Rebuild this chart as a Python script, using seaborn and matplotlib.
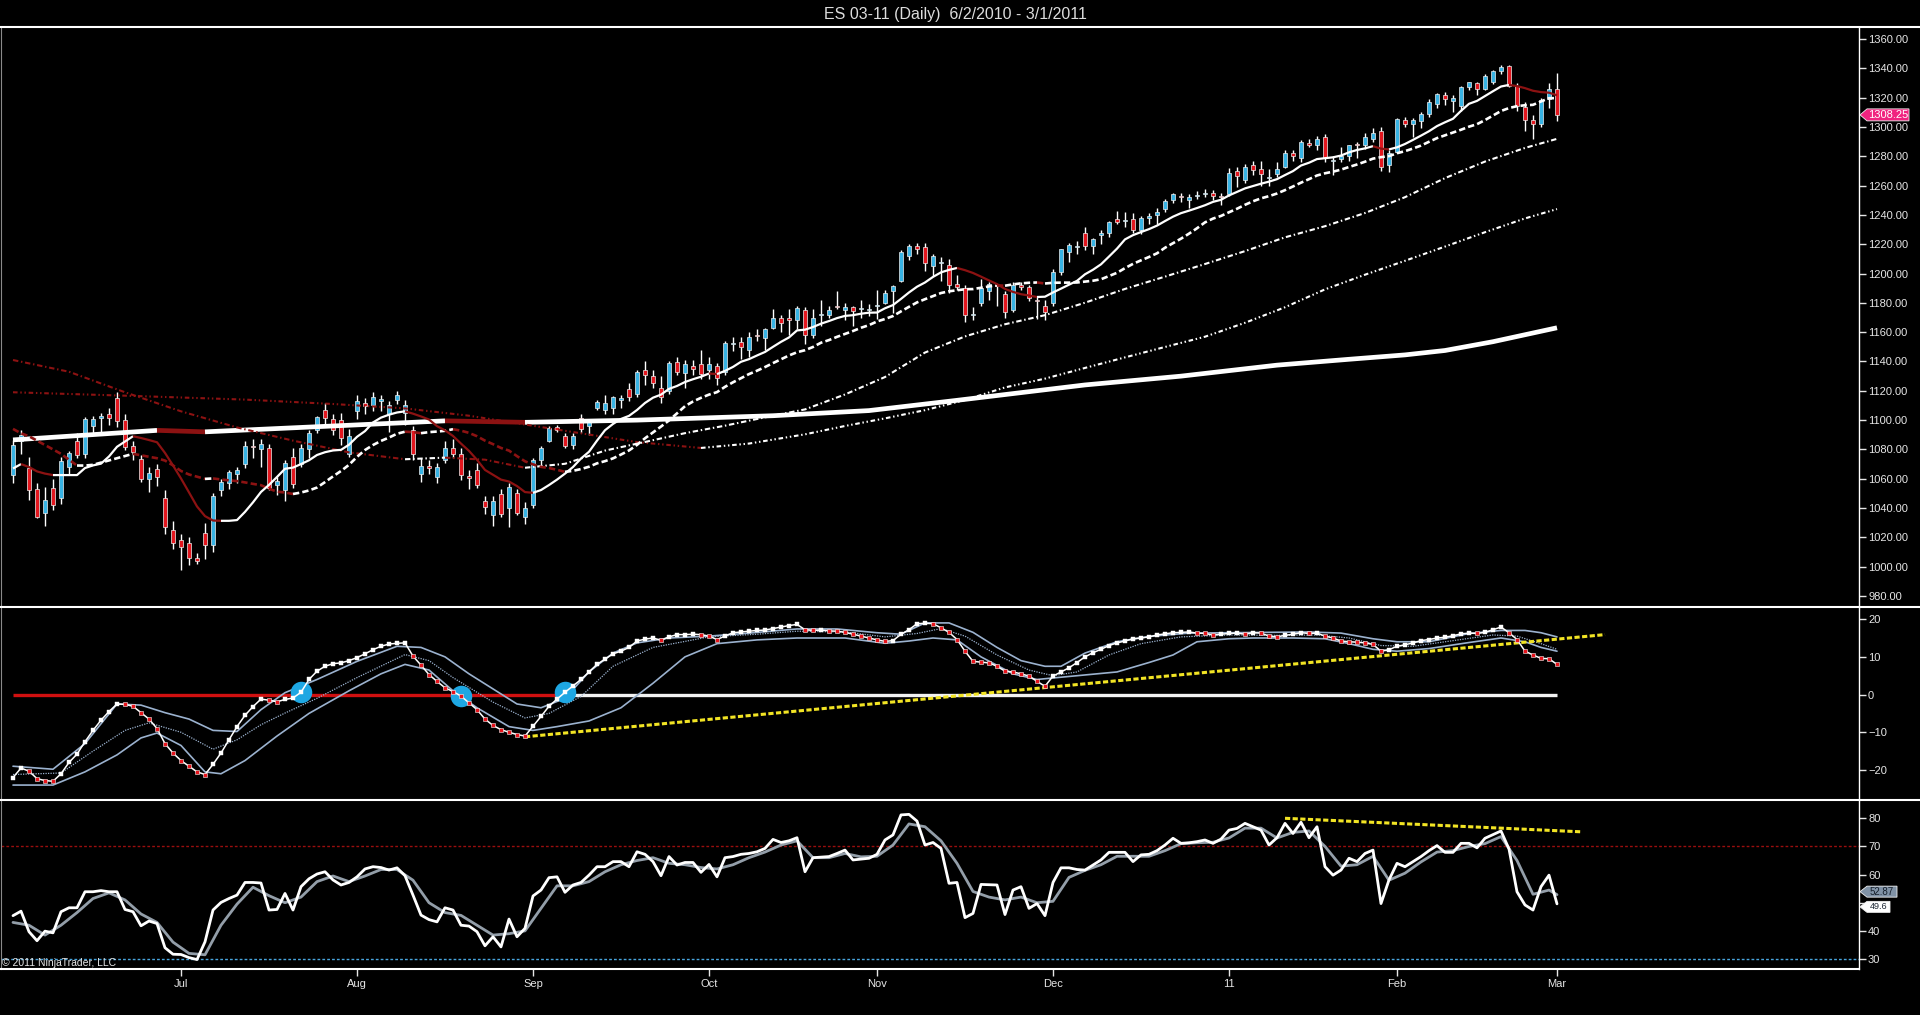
import matplotlib
matplotlib.use('Agg')
import matplotlib.pyplot as plt
import seaborn as sns
from matplotlib.patches import Polygon
from matplotlib.lines import Line2D

# ---------------- data ----------------
opens = [1062.5, 1086, 1067, 1053, 1036.5, 1053.5, 1047, 1068, 1086, 1077,
         1096, 1101.5, 1104.5, 1115, 1100, 1082, 1073.5, 1060, 1066.5, 1047,
         1025, 1018, 1016, 1006, 1023, 1015, 1052, 1057, 1063, 1070,
         1082, 1080, 1081, 1056, 1052, 1075, 1070, 1080, 1093, 1107,
         1101, 1100, 1077, 1106, 1112, 1110, 1113, 1104, 1114, 1105,
         1093, 1063, 1069, 1061.5, 1073, 1081, 1077, 1062, 1066, 1045,
         1035.5, 1049.5, 1040, 1050.5, 1034, 1042, 1072.5, 1086, 1095, 1089,
         1083, 1101.5, 1096, 1108, 1107, 1108, 1114, 1121.5, 1118, 1134,
         1130, 1122, 1120, 1139.5, 1132, 1137, 1138, 1134, 1137, 1133,
         1152, 1153, 1148, 1158, 1156, 1163, 1170, 1170, 1168, 1175,
         1158, 1172, 1172, 1178, 1175, 1177, 1176, 1175, 1178, 1180,
         1188, 1195, 1212, 1219, 1218, 1205, 1207, 1206, 1193, 1190,
         1172, 1180, 1188, 1192, 1186, 1175, 1192, 1191, 1182, 1178,
         1180, 1201, 1215, 1218, 1228, 1219, 1226, 1228, 1237, 1236,
         1237, 1230, 1238, 1240, 1244, 1250, 1253, 1250, 1253, 1254,
         1255, 1253, 1254, 1270, 1264, 1274, 1271, 1265, 1268, 1273,
         1282, 1279, 1289, 1288, 1293, 1277, 1278, 1280, 1288, 1288,
         1292, 1297, 1274, 1283, 1305, 1302, 1304, 1309, 1316, 1322,
         1318, 1314, 1327, 1330, 1326, 1331, 1338, 1341.5, 1328, 1313.5,
         1305, 1302, 1319, 1326]
highs = [1086.5, 1093, 1075, 1057, 1054.5, 1060, 1075, 1079, 1091, 1102,
         1103, 1105, 1108, 1119, 1104, 1086, 1076, 1068, 1070, 1052,
         1031, 1022, 1020, 1009, 1030, 1050.5, 1060, 1066, 1068, 1086,
         1087, 1087, 1084, 1061, 1073, 1081, 1084, 1093, 1103, 1112,
         1104, 1105, 1094, 1117, 1115, 1119, 1117, 1113, 1120, 1114,
         1096, 1074, 1073, 1071, 1086, 1087, 1081, 1066, 1071, 1048,
         1048, 1053, 1057, 1053, 1044, 1074, 1082, 1096, 1097, 1091,
         1091, 1104, 1101, 1114, 1117, 1116.5, 1117, 1125, 1134, 1140,
         1134, 1130, 1140, 1143, 1141, 1141, 1148, 1143, 1139, 1154,
         1157, 1157, 1160, 1162, 1163, 1176, 1172, 1176, 1178, 1177,
         1176, 1182, 1178, 1188, 1180, 1178, 1182, 1179, 1189, 1189,
         1192, 1216, 1220, 1221, 1221, 1213, 1211, 1210, 1199, 1192,
         1177, 1196, 1194, 1193, 1188, 1194, 1194, 1192, 1185, 1182,
         1203, 1217, 1221, 1222, 1232, 1224, 1230, 1236, 1243, 1242,
         1241, 1239, 1241, 1245, 1251, 1255, 1255, 1254, 1256, 1258,
         1257, 1255, 1272, 1273, 1275, 1277, 1277, 1271, 1276, 1284,
         1284, 1291, 1292, 1294, 1295, 1280, 1286, 1288, 1290, 1296,
         1299, 1300, 1284, 1306, 1307, 1306, 1310, 1319, 1323, 1324,
         1322, 1328, 1331, 1331, 1336, 1339, 1342, 1342, 1330, 1317,
         1308, 1320, 1330, 1337]
lows = [1057, 1077, 1045.5, 1033, 1027.5, 1038.5, 1043, 1063, 1074, 1074,
        1090, 1091, 1097, 1095, 1079.5, 1073, 1057.5, 1051, 1055, 1022,
        1012, 998, 1001, 1002, 1005, 1010, 1048, 1053, 1057, 1067,
        1074, 1068, 1052, 1049, 1044.5, 1054, 1068, 1074, 1091, 1097,
        1090, 1083, 1075, 1101, 1104, 1106, 1106, 1092, 1111, 1097,
        1073, 1058, 1063, 1057, 1071, 1074, 1059, 1053, 1054, 1036,
        1028, 1034, 1027, 1035, 1029, 1040, 1068, 1085, 1092, 1081,
        1080, 1091, 1090, 1107, 1104, 1104, 1108, 1113, 1116, 1124,
        1122, 1112, 1118, 1131, 1122, 1131, 1128, 1128, 1124, 1131,
        1147, 1142, 1143, 1154, 1148, 1162, 1160, 1158, 1162, 1152,
        1156, 1164, 1170, 1176, 1168, 1164, 1170, 1171, 1169, 1179,
        1173, 1194, 1209, 1213, 1202, 1198, 1195, 1187, 1189, 1167,
        1168, 1178, 1182, 1178, 1170, 1174, 1189, 1181, 1169, 1168,
        1178, 1199, 1208, 1213, 1216, 1213, 1220, 1225, 1234, 1232,
        1228, 1227, 1234, 1234, 1242, 1248, 1249, 1245, 1251, 1252,
        1250, 1247, 1253, 1259, 1262, 1267, 1260, 1260, 1266, 1272,
        1277, 1276, 1286, 1284, 1276, 1267, 1276, 1277, 1279, 1285,
        1290, 1270, 1269, 1282, 1300, 1293, 1299, 1307, 1313, 1315,
        1310, 1311, 1325, 1322, 1325, 1329, 1336, 1327, 1311, 1297,
        1292, 1300, 1313, 1304]
closes = [1083, 1090, 1052.5, 1034, 1045.5, 1042, 1072, 1077.5, 1076, 1100.5,
          1100.5, 1102.5, 1101.5, 1099.5, 1081.5, 1078, 1060, 1064, 1061, 1027,
          1016, 1013.5, 1006, 1004, 1015, 1048.5, 1057.5, 1064.5, 1066, 1082.5,
          1081.5, 1084, 1054, 1058.5, 1071, 1056.5, 1081, 1091, 1102, 1101.5,
          1093, 1088, 1089, 1113, 1109.5, 1115.5, 1114.5, 1110.5, 1117, 1110,
          1077, 1069, 1067.5, 1068, 1081, 1077, 1062.5, 1060.5, 1056, 1041,
          1044.5, 1036, 1054.5, 1036.5, 1040, 1072.5, 1081, 1094.5, 1093.5, 1082,
          1089.5, 1094, 1100, 1112.5, 1111.5, 1115.5, 1115, 1115.5, 1133, 1130.5,
          1125, 1115.5, 1139, 1132.5, 1138, 1135, 1131.5, 1138, 1129, 1152.5,
          1152, 1150, 1157, 1157.5, 1162, 1170, 1166, 1168, 1176.5, 1158,
          1170, 1172.5, 1175, 1177.5, 1177.5, 1174.5, 1176, 1175, 1178, 1187,
          1191.5, 1214.5, 1219, 1216.5, 1207, 1212, 1207, 1192.5, 1191, 1172,
          1172, 1190, 1193, 1191.5, 1174, 1192, 1191, 1183, 1181, 1174,
          1201, 1216.5, 1219.5, 1218, 1218.5, 1223.5, 1228, 1235.5, 1235.5, 1236.5,
          1230, 1238, 1239, 1242, 1249.5, 1254, 1252, 1252.5, 1253.5, 1255,
          1253, 1252.5, 1268.5, 1266.5, 1273, 1270.5, 1268, 1266, 1271, 1282.5,
          1280.5, 1290, 1288, 1291.5, 1278.5, 1277, 1280, 1287.5, 1287.5, 1293,
          1296, 1273, 1282.5, 1305.5, 1302, 1305, 1309, 1317, 1322.5, 1319,
          1320, 1327, 1330.5, 1326, 1334.5, 1338.5, 1341, 1328, 1314, 1305,
          1302, 1318.5, 1326, 1308.25]

ma10 = [1067, 1070, 1068, 1065, 1063.5, 1062.5, 1062.5, 1062.5, 1062.5, 1067.3,
        1069.1, 1070.3, 1075.2, 1081.8, 1085.4, 1089.0, 1087.8, 1086.4, 1084.9, 1077.6,
        1069.1, 1060.2, 1050.7, 1041.1, 1034.5, 1031.5, 1031.3, 1031.3, 1031.8, 1037.4,
        1043.9, 1051.0, 1055.8, 1061.2, 1066.8, 1067.6, 1070.0, 1072.6, 1076.2, 1078.1,
        1079.3, 1079.7, 1083.2, 1088.6, 1092.5, 1098.4, 1101.7, 1103.7, 1105.2, 1106.0,
        1104.4, 1102.5, 1100.4, 1095.9, 1093.0, 1089.2, 1084.0, 1079.0, 1072.9, 1066.0,
        1062.7, 1059.4, 1058.1, 1055.0, 1050.9, 1050.4, 1052.3, 1055.7, 1059.4, 1063.5,
        1068.0, 1073.8, 1078.4, 1086.0, 1093.1, 1097.4, 1100.8, 1102.9, 1106.9, 1111.7,
        1115.3, 1117.4, 1121.3, 1123.3, 1126.0, 1127.9, 1129.6, 1131.8, 1131.4, 1133.6,
        1136.3, 1139.8, 1141.6, 1144.1, 1146.5, 1150.0, 1153.4, 1156.4, 1161.2, 1161.7,
        1163.5, 1165.8, 1167.6, 1169.6, 1171.1, 1171.6, 1172.6, 1173.3, 1173.4, 1176.3,
        1178.5, 1182.7, 1187.1, 1191.0, 1193.9, 1197.7, 1200.8, 1202.5, 1203.8, 1202.3,
        1200.4, 1197.9, 1195.3, 1192.8, 1189.5, 1187.5, 1185.9, 1185.0, 1184.0, 1184.2,
        1187.1, 1189.7, 1192.4, 1195.0, 1199.5, 1202.6, 1206.3, 1211.6, 1217.0, 1223.3,
        1226.2, 1228.3, 1230.3, 1232.7, 1235.8, 1238.8, 1241.2, 1242.9, 1244.7, 1246.6,
        1248.9, 1250.3, 1253.3, 1255.7, 1258.1, 1259.7, 1261.3, 1262.7, 1264.4, 1267.2,
        1269.9, 1273.7, 1275.6, 1278.1, 1278.7, 1279.3, 1280.5, 1282.7, 1284.3, 1285.4,
        1286.9, 1285.2, 1284.7, 1286.1, 1288.4, 1291.2, 1294.1, 1297.1, 1300.6, 1303.2,
        1305.6, 1311.0, 1315.8, 1317.8, 1321.1, 1324.4, 1327.6, 1328.7, 1327.9, 1326.5,
        1324.7, 1323.8, 1323.4, 1321.6]
ma20 = [1094, 1091, 1089, 1086, 1083, 1080, 1077, 1073, 1069, 1069,
        1069.5, 1071, 1072.5, 1074, 1075.5, 1077, 1076, 1075, 1074, 1072.4,
        1069.1, 1065.3, 1062.9, 1061.4, 1059.9, 1060.2, 1059.5, 1058.9, 1058.4, 1057.5,
        1056.5, 1055.6, 1053.2, 1051.2, 1050.6, 1049.6, 1050.6, 1052.0, 1054.0, 1057.7,
        1061.6, 1065.3, 1069.5, 1074.9, 1079.6, 1083.0, 1085.8, 1088.1, 1090.7, 1092.1,
        1091.8, 1091.1, 1091.8, 1092.2, 1092.7, 1093.8, 1092.8, 1091.3, 1089.0, 1086.0,
        1083.6, 1081.0, 1079.2, 1075.4, 1071.9, 1069.8, 1068.1, 1067.3, 1066.1, 1064.7,
        1065.4, 1066.6, 1068.2, 1070.5, 1072.0, 1073.9, 1076.5, 1079.3, 1083.1, 1087.6,
        1091.6, 1095.6, 1099.8, 1104.6, 1109.5, 1112.7, 1115.2, 1117.4, 1119.1, 1122.7,
        1125.8, 1128.6, 1131.4, 1133.7, 1136.2, 1138.9, 1141.5, 1144.1, 1146.3, 1147.7,
        1149.9, 1152.8, 1154.6, 1156.8, 1158.8, 1160.8, 1163.0, 1164.8, 1167.3, 1169.0,
        1171.0, 1174.2, 1177.3, 1180.3, 1182.5, 1184.6, 1186.7, 1187.9, 1188.6, 1189.3,
        1189.4, 1190.3, 1191.2, 1191.9, 1191.7, 1192.6, 1193.3, 1193.7, 1193.9, 1193.2,
        1193.7, 1193.8, 1193.8, 1193.9, 1194.5, 1195.1, 1196.1, 1198.3, 1200.5, 1203.7,
        1206.6, 1209.0, 1211.3, 1213.8, 1217.6, 1220.7, 1223.8, 1227.2, 1230.9, 1234.9,
        1237.5, 1239.3, 1241.8, 1244.2, 1246.9, 1249.3, 1251.3, 1252.8, 1254.6, 1256.9,
        1259.4, 1262.0, 1264.4, 1266.9, 1268.4, 1269.5, 1270.9, 1272.7, 1274.4, 1276.3,
        1278.4, 1279.4, 1280.1, 1282.1, 1283.5, 1285.3, 1287.3, 1289.9, 1292.4, 1294.3,
        1296.2, 1298.1, 1300.2, 1301.9, 1304.7, 1307.8, 1310.9, 1312.9, 1314.2, 1314.8,
        1315.1, 1317.4, 1319.6, 1319.7]

ma50_x = [0, 7, 14, 21, 28, 35, 42, 49, 54, 59, 64, 69, 74, 79, 84, 89, 94, 99,
          104, 109, 114, 119, 124, 129, 134, 139, 144, 149, 154, 159, 164, 169,
          174, 179, 184, 189, 193]
ma50_y = [1141, 1133, 1119, 1106, 1095, 1086, 1078, 1073.3, 1074.4, 1073.0, 1067.5,
          1070.2, 1079.2, 1085.1, 1091.1, 1096.2, 1101.9, 1107.3, 1117.5, 1129.4,
          1146.1, 1157.1, 1165.4, 1171.6, 1180.1, 1189.5, 1197.9, 1206.5, 1215.3,
          1224.7, 1232.3, 1241.3, 1252.1, 1265.1, 1276.4, 1285.7, 1291.9]
ma100_x = [0, 15, 29, 40, 49, 57, 64, 71, 78, 86, 92, 99, 104, 109, 114, 119, 124,
           129, 134, 139, 144, 149, 154, 159, 164, 169, 174, 179, 184, 189, 193]
ma100_y = [1119, 1116.5, 1114, 1111, 1108, 1103, 1097, 1091, 1085, 1081, 1084,
           1090.3, 1096, 1101.2, 1106.8, 1113.7, 1122.3, 1128.3, 1135.6, 1142.8,
           1149.9, 1156.9, 1166.4, 1177.0, 1189.2, 1199.2, 1208.7, 1218.4, 1228.2,
           1237.6, 1244.0]
ma200_x = [0, 18, 24, 54, 64, 78, 95, 107, 118, 134, 146, 158, 167, 174, 179, 185, 193]
ma200_y = [1086.5, 1093, 1092, 1099.5, 1098.5, 1100, 1103, 1106.5, 1113.5, 1124,
           1130, 1137.5, 1141.5, 1144.5, 1147.5, 1153.5, 1163]

osc = [-22.0, -19.5, -20.3, -22.3, -22.8, -23.0, -21.0, -18.0, -15.8, -12.5,
       -9.5, -6.8, -4.5, -2.5, -2.6, -3.1, -4.8, -6.5, -9.0, -13.0,
       -15.5, -17.5, -19.0, -20.5, -21.2, -18.5, -15.5, -12.0, -8.5, -5.5,
       -3.2, -1.2, -1.5, -1.9, -1.3, -0.9, 0.6, 4.0, 6.2, 7.5,
       8.2, 8.4, 9.0, 9.8, 10.8, 11.9, 12.8, 13.4, 13.6, 13.7,
       10.2, 7.8, 5.3, 3.5, 1.8, 0.8, -0.4, -2.2, -4.0, -6.5,
       -8.2, -9.3, -10.0, -10.6, -11.0, -8.4, -5.8, -3.1, -1.2, 0.6,
       2.3, 4.0, 6.0, 8.0, 9.4, 10.8, 11.5, 12.5, 14.2, 14.7,
       15.0, 14.4, 15.3, 15.9, 15.9, 16.0, 15.9, 15.5, 14.6, 15.5,
       16.4, 16.6, 16.8, 17.0, 17.1, 17.5, 17.9, 18.3, 18.6, 17.2,
       17.0, 17.1, 16.9, 16.8, 16.5, 16.0, 15.5, 15.0, 14.5, 14.1,
       14.3, 16.0, 17.2, 18.8, 18.9, 18.8, 17.7, 16.5, 14.6, 11.5,
       8.8, 8.6, 8.4, 7.5, 6.2, 6.0, 5.5, 4.9, 3.5, 2.2,
       4.9, 6.0, 7.1, 8.5, 10.0, 11.1, 12.0, 13.0, 13.7, 14.2,
       14.8, 15.0, 15.3, 15.8, 16.1, 16.4, 16.5, 16.6, 16.3, 16.2,
       15.8, 16.0, 16.2, 16.3, 16.0, 16.4, 16.3, 15.5, 15.3, 15.7,
       16.0, 16.4, 16.2, 16.3, 15.5, 15.0, 14.2, 14.0, 13.9, 13.7,
       13.3, 11.5, 11.9, 12.8, 13.2, 13.7, 14.3, 14.6, 15.0, 15.2,
       15.6, 16.1, 16.3, 16.2, 16.5, 17.2, 17.9, 16.4, 14.6, 11.5,
       10.5, 9.6, 9.5, 8.0]
band_up_x = [0, 5, 9, 13, 16, 19, 22, 25, 28, 31, 34, 38, 43, 48, 51, 54, 57, 60, 63,
             66, 69, 72, 75, 78, 82, 87, 92, 98, 103, 108, 111, 114, 117, 120, 123,
             126, 129, 131, 134, 138, 142, 147, 152, 157, 162, 166, 170, 173, 177,
             182, 186, 189, 191, 193]
band_up_y = [-19, -19.8, -13, -2.5, -2.8, -4.8, -6.5, -9.5, -9.8, -4, 0.5, 4, 8.8,
             12.8, 12.5, 10, 5.5, 1.5, -2.5, -3.5, -1, 6, 11, 13.7, 15, 15.5, 16.3,
             17.4, 17.4, 16.4, 16.0, 19.0, 19.0, 16.5, 12.5, 9.0, 7.5, 7.5, 11.0,
             14.0, 15.4, 16.3, 16.4, 16.5, 16.6, 16.3, 14.8, 14.0, 14.0, 16.2, 17.0,
             17.0, 16.4, 15.3]
band_mid_x = [0, 6, 10, 14, 17, 21, 25, 28, 31, 34, 38, 43, 49, 52, 55, 60, 64, 67,
              71, 75, 80, 87, 93, 98, 104, 109, 113, 116, 119, 123, 127, 130, 133,
              137, 141, 146, 152, 158, 163, 167, 171, 175, 180, 185, 188, 191, 193]
band_mid_y = [-21.2, -20.8, -15, -9.5, -7.5, -10, -14.5, -12, -8, -4.9, -1, 4.5,
              10.6, 9, 4.5, -2, -6.2, -5, -0.5, 7.5, 12.5, 15.3, 16, 16.8, 16.6,
              15.3, 16.2, 17.5, 15.5, 10.5, 6.5, 5.0, 6.0, 10.5, 13.5, 15.3, 15.8,
              15.7, 15.8, 15.0, 13.0, 12.8, 14.3, 15.8, 15.5, 13.5, 12.0]
band_lo_x = [0, 5, 9, 13, 16, 18, 21, 24, 26, 29, 33, 37, 42, 46, 49, 52, 55, 58, 62,
             65, 68, 72, 76, 80, 84, 88, 93, 98, 104, 109, 112, 115, 118, 121, 125,
             128, 133, 138, 142, 145, 148, 152, 155, 160, 164, 167, 170, 173, 177,
             182, 186, 189, 191, 193]
band_lo_y = [-24, -24, -20.5, -16, -11.5, -10.2, -13.5, -20.5, -21.0, -17.5, -11,
             -5, 1, 5.5, 8.0, 6.5, 1, -3.5, -8.5, -9.5, -8.5, -7.0, -3.5, 3, 10,
             13.5, 14.5, 15.0, 15.0, 13.6, 14.2, 15.0, 14.5, 10.0, 5.5, 4.0, 5.0,
             6.0, 8.5, 10.5, 14.0, 14.8, 15.0, 15.0, 14.8, 13.5, 12.0, 11.5, 12.2,
             13.8, 15.0, 14.0, 12.5, 11.5]
cross_idx = [36, 56, 69]
zero_red_until = 69
osc_trend_x = [64, 199]
osc_trend_y = [-11.2, 15.9]

rsi = [45.4, 47.0, 39.7, 36.5, 39.9, 39.3, 46.8, 48.2, 48.2, 53.9,
       53.9, 54.3, 53.9, 53.9, 47.6, 46.8, 41.8, 43.5, 42.6, 34.0,
       31.7, 31.6, 30.5, 29.8, 36.1, 47.4, 50.1, 51.5, 52.7, 57.2,
       57.2, 57.0, 47.4, 47.6, 53.3, 47.4, 55.7, 58.5, 60.2, 61.0,
       58.1, 56.3, 57.2, 59.2, 62.0, 62.8, 62.5, 61.6, 62.4, 59.6,
       52.7, 45.6, 44.0, 43.2, 48.2, 47.4, 42.0, 41.7, 39.7, 34.7,
       37.9, 34.3, 44.2, 37.9, 40.9, 52.4, 54.5, 58.9, 59.2, 53.7,
       56.3, 57.2, 59.8, 62.8, 62.8, 64.6, 64.6, 62.8, 68.1, 67.2,
       64.6, 59.6, 66.4, 63.4, 64.3, 64.3, 60.8, 63.6, 59.2, 66.0,
       66.4, 67.2, 67.5, 68.1, 69.3, 72.5, 71.4, 72.0, 73.1, 61.0,
       66.0, 66.2, 66.4, 67.5, 68.7, 65.2, 65.5, 65.8, 67.2, 72.3,
       74.1, 81.2, 81.4, 79.0, 70.5, 71.4, 69.3, 56.9, 57.2, 44.7,
       46.2, 56.5, 56.4, 56.3, 45.8, 54.5, 55.7, 48.0, 49.7, 45.4,
       57.2, 62.4, 62.4, 61.8, 61.6, 63.4, 65.2, 67.9, 67.9, 67.9,
       64.6, 67.0, 67.2, 68.5, 70.5, 72.9, 71.1, 71.3, 71.7, 72.3,
       71.1, 72.6, 75.8, 76.4, 78.2, 77.0, 75.8, 70.5, 73.1, 78.2,
       74.6, 78.6, 73.1, 77.0, 62.8, 59.8, 61.6, 65.8, 64.6, 67.5,
       68.7, 49.7, 58.1, 64.0, 62.8, 64.6, 66.4, 68.5, 70.3, 67.9,
       67.9, 71.1, 71.1, 69.5, 72.9, 74.2, 75.5, 69.1, 53.9, 49.2,
       47.4, 55.7, 59.8, 49.6]
rsi_avg_x = [0, 2, 4, 6, 8, 10, 12, 14, 16, 18, 20, 22, 24, 26, 28, 30, 32, 34, 36,
             38, 40, 42, 44, 46, 48, 50, 52, 54, 56, 58, 60, 62, 64, 66, 68, 70, 72,
             74, 76, 78, 80, 82, 84, 86, 88, 90, 92, 94, 96, 98, 100, 102, 104, 106,
             108, 110, 112, 114, 116, 118, 120, 122, 124, 126, 128, 130, 132, 134,
             136, 138, 140, 142, 144, 146, 148, 150, 152, 154, 156, 158, 160, 162,
             164, 166, 168, 170, 172, 174, 176, 178, 180, 182, 184, 186, 188, 190,
             192, 193]
rsi_avg_y = [43, 42, 38.5, 42, 46.5, 51.5, 53.5, 51, 46, 43, 36, 32, 31.5, 42, 49.5,
             55.5, 52.5, 50, 52, 57.5, 59.5, 57.5, 59.5, 61.8, 61.8, 58, 50, 46.5,
             45.5, 42, 38.5, 39, 40, 48, 56, 56, 57.5, 61, 63.5, 65, 66, 64, 63.5,
             62.5, 62, 63.5, 66, 68, 70.5, 72, 66, 66, 67.5, 66.3, 66.5, 70.5, 78,
             77, 72, 64, 54, 52, 51, 52, 50, 50.5, 59, 61.5, 63.5, 66.5, 66.5, 66.5,
             68.5, 71, 71.3, 71.5, 73, 76.5, 76.5, 73, 75, 75.5, 70, 63, 63.5, 66.5,
             58, 60.5, 64.5, 68, 68.5, 70, 71, 73.5, 65, 53, 54.5, 52.87]
rsi_trend_x = [159, 196]
rsi_trend_y = [80.0, 75.2]

month_pos = [21, 43, 65, 87, 108, 130, 152, 173, 193]
month_labels = ['Jul', 'Aug', 'Sep', 'Oct', 'Nov', 'Dec', '11', 'Feb', 'Mar']
rsi_ticks = [30, 40, 50, 60, 70, 80]
rsi_tick_labels = ['30', '40', '', '60', '70', '80']  # 50 sits under the value tags

# ---------------- style ----------------
sns.set_style('dark', {'axes.facecolor': 'black', 'figure.facecolor': 'black',
                       'axes.edgecolor': 'white', 'text.color': 'white',
                       'xtick.color': '#e6e6e6', 'ytick.color': '#e6e6e6'})
plt.rcParams['font.family'] = ['Liberation Sans', 'DejaVu Sans']

W, H = 1920, 1015
UP_COL = 'white'
DN_COL = '#8c1212'
fig = plt.figure(figsize=(W / 100, H / 100), dpi=100, facecolor='black')


def fy(px):
    return 1 - px / H


ax_p = fig.add_axes([1 / W, fy(606.7), 1858 / W, (606.7 - 27.3) / H])
ax_o = fig.add_axes([1 / W, fy(800), 1858 / W, (800 - 606.7) / H])
ax_r = fig.add_axes([1 / W, fy(969), 1858 / W, (969 - 800) / H])

xlim = (-1.5, 230.75)
ylims = {ax_p: (972.7, 1368.0), ax_o: (-27.96, 23.3), ax_r: (26.45, 86.5)}

for ax in (ax_p, ax_o, ax_r):
    ax.set_facecolor('black')
    ax.grid(False)
    for s in ('top', 'bottom'):
        ax.spines[s].set_visible(False)
    ax.spines['left'].set_color('#8a8a8a')
    ax.spines['left'].set_linewidth(0.8)
    ax.spines['right'].set_color('white')
    ax.spines['right'].set_linewidth(1.0)
    ax.yaxis.tick_right()
    ax.tick_params(axis='y', colors='#e6e6e6', labelsize=8, length=5, width=1,
                   pad=1.5, direction='out', left=False, right=True)
    ax.tick_params(axis='x', bottom=False, labelbottom=False)


def draw_ma(ax, xs, ys, lw, ls, z=6):
    # colour each run white when rising, dark red when falling
    n = len(ys)
    up = [ys[k + 1] >= ys[k] for k in range(n - 1)]
    start = 0
    runs = []
    for k in range(1, n - 1):
        if up[k] != up[start]:
            runs.append((start, k))
            start = k
    runs.append((start, n - 1))
    for a, b in runs:
        ax.plot(xs[a:b + 1], ys[a:b + 1], color=UP_COL if up[a] else DN_COL,
                lw=lw, linestyle=ls, zorder=z, solid_capstyle='butt')


# ---------------- price panel ----------------
idx = list(range(len(closes)))
ax_p.vlines(idx, lows, highs, color='white', lw=1, zorder=3)
bottoms = [min(o, c) for o, c in zip(opens, closes)]
heights = [max(abs(c - o), 0.6) for o, c in zip(opens, closes)]
body_cols = ['#37b3e4' if c >= o else '#e3161e' for o, c in zip(opens, closes)]
ax_p.bar(idx, heights, bottom=bottoms, width=0.58, color=body_cols,
         edgecolor='#eeeeee', linewidth=0.5, zorder=4)

draw_ma(ax_p, ma200_x, ma200_y, 3.4, '-', z=5)
draw_ma(ax_p, ma100_x, ma100_y, 1.5, (0, (2.2, 1.3, 0.7, 1.3, 0.7, 1.3)))
draw_ma(ax_p, ma50_x, ma50_y, 1.5, (0, (2.6, 1.3, 0.7, 1.3)))
draw_ma(ax_p, idx, ma20, 1.9, (0, (2.4, 1.2)))
draw_ma(ax_p, idx, ma10, 1.6, '-')

ax_p.set_yticks(list(range(980, 1361, 20)))
ax_p.set_yticklabels([f'{v:.2f}' for v in range(980, 1361, 20)])

# ---------------- oscillator panel ----------------
ax_o.plot([0, zero_red_until], [0, 0], color='#d01010', lw=2.4, zorder=2,
          solid_capstyle='butt')
ax_o.plot([zero_red_until, idx[-1]], [0, 0], color='#f2f2f2', lw=2.4, zorder=2,
          solid_capstyle='butt')

sns.lineplot(x=band_up_x, y=band_up_y, ax=ax_o, color='#9bb2cf', lw=1.2, zorder=3)
sns.lineplot(x=band_lo_x, y=band_lo_y, ax=ax_o, color='#9bb2cf', lw=1.2, zorder=3)
ax_o.plot(band_mid_x, band_mid_y, color='#9bb2cf', lw=0.9, linestyle=(0, (1, 1)), zorder=3)

ax_o.plot(osc_trend_x, osc_trend_y, color='#f2e424', lw=2.2, linestyle=(0, (1.7, 0.8)), zorder=4)

ax_o.scatter(cross_idx, [osc[i] for i in cross_idx], s=240, color='#1ea7e3',
             zorder=5, linewidths=0)

sns.lineplot(x=idx, y=osc, ax=ax_o, color='white', lw=1.1, zorder=6)
rise_x = [i for i in idx if i == 0 or osc[i] >= osc[i - 1]]
fall_x = [i for i in idx if i > 0 and osc[i] < osc[i - 1]]
sns.scatterplot(x=rise_x, y=[osc[i] for i in rise_x], ax=ax_o, marker='s', s=11,
                color='white', edgecolor='white', linewidth=0.3, zorder=7)
sns.scatterplot(x=fall_x, y=[osc[i] for i in fall_x], ax=ax_o, marker='s', s=11,
                color='#e8141c', edgecolor='#f4f4f4', linewidth=0.4, zorder=7)
ax_o.set_yticks([-20, -10, 0, 10, 20])

# ---------------- RSI panel ----------------
ax_r.axhline(70, color='#9a0e0e', lw=1, linestyle=(0, (2, 1.5)), zorder=1)
ax_r.axhline(30, color='#48a4dc', lw=1, linestyle=(0, (2, 1.5)), zorder=1)
sns.lineplot(x=rsi_avg_x, y=rsi_avg_y, ax=ax_r, color='#939ea9', lw=2, zorder=3)
sns.lineplot(x=idx, y=rsi, ax=ax_r, color='white', lw=2, zorder=4)
ax_r.plot(rsi_trend_x, rsi_trend_y, color='#f2e424', lw=2.2, linestyle=(0, (1.7, 0.8)), zorder=5)
ax_r.set_yticks(rsi_ticks)
ax_r.set_yticklabels(rsi_tick_labels)

ax_r.spines['bottom'].set_visible(True)
ax_r.spines['bottom'].set_color('white')
ax_r.spines['bottom'].set_linewidth(1.5)
ax_r.set_xticks(month_pos)
ax_r.set_xticklabels(month_labels)
ax_r.tick_params(axis='x', bottom=True, labelbottom=True, colors='#e6e6e6',
                 labelsize=8, length=5, width=1, direction='out', pad=2)

for ax in (ax_p, ax_o, ax_r):
    ax.set_xlim(*xlim)
    ax.set_ylim(*ylims[ax])
    ax.set_xlabel('')
    ax.set_ylabel('')
    leg = ax.get_legend()
    if leg:
        leg.remove()

# ---------------- frame lines, title, tags ----------------
for ypx in (27.3, 606.7, 800):
    fig.add_artist(Line2D([0, 1], [fy(ypx), fy(ypx)], transform=fig.transFigure,
                          color='white', lw=1.5))

fig.text(955 / W, fy(14), 'ES 03-11 (Daily)  6/2/2010 - 3/1/2011', ha='center',
         va='center', fontsize=11.5, color='#dcdcdc')
fig.text(2 / W, fy(963), '\u00a9 2011 NinjaTrader, LLC', ha='left', va='center',
         fontsize=7.5, color='#e6e6e6')


def value_tag(ax, val, text, face, tcolor, width_px, size=8, shift=0.0, half=6.0):
    bb = ax.get_position()
    lo, hi = ylims[ax]
    yc = bb.y0 + (val - lo) / (hi - lo) * bb.height + shift / H
    dy = half / H
    x0 = 1860 / W
    xn = 1867 / W
    x1 = (1860 + width_px) / W
    fig.add_artist(Polygon([[x0, yc], [xn, yc + dy], [x1, yc + dy], [x1, yc - dy], [xn, yc - dy]],
                           closed=True, transform=fig.transFigure, facecolor=face,
                           edgecolor='#f0f0f0', lw=0.6))
    fig.text((xn + x1) / 2, yc, text, ha='center', va='center',
             fontsize=size, color=tcolor)


value_tag(ax_p, 1308.25, '1308.25', '#f0237f', 'white', 49)
value_tag(ax_r, 49.6, '49.6', 'white', '#1c2633', 30, size=6.5, shift=-3, half=5.5)
value_tag(ax_r, 52.87, '52.87', '#8092a6', '#16202c', 37, size=7, shift=3, half=5.5)

fig.savefig('out.png', dpi=100, facecolor='black')
